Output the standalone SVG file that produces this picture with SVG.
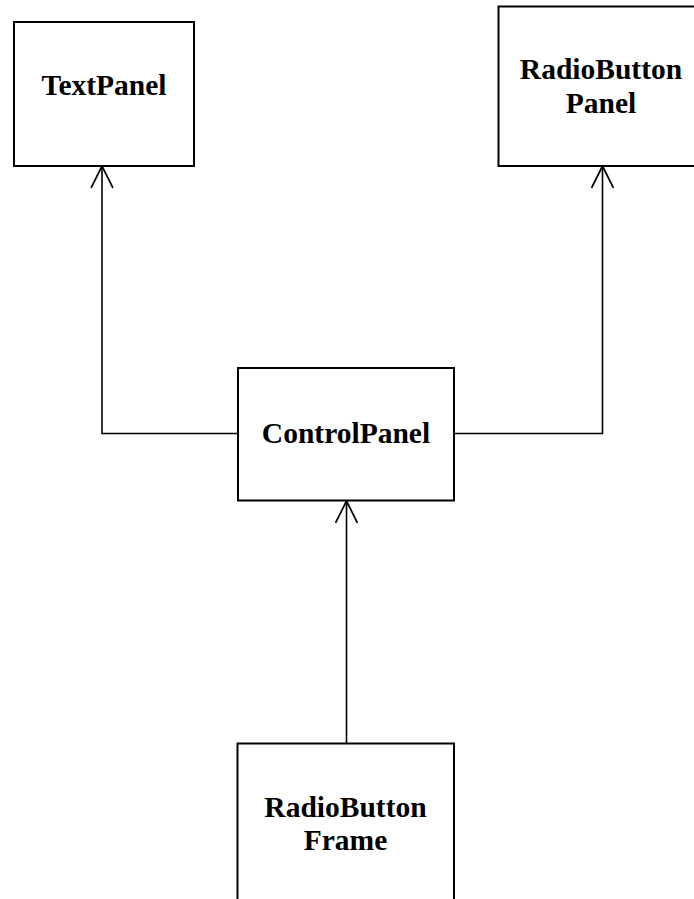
<svg xmlns="http://www.w3.org/2000/svg" width="694" height="899" viewBox="0 0 694 899">
<defs>
<style>
.box{fill:#fff;stroke:#000;stroke-width:2}
.lbl{font-family:"Liberation Serif","Times New Roman",serif;font-weight:bold;font-size:29.5px;text-anchor:middle;fill:#000}
.conn{fill:none;stroke:#000;stroke-width:1.6}
</style>
<marker id="open" markerUnits="userSpaceOnUse" markerWidth="24" markerHeight="24" refX="21" refY="11" orient="auto" viewBox="0 0 22 22">
<path d="M1,1 L21,11 L1,21" fill="none" stroke="#000" stroke-width="1.6"/>
</marker>
</defs>
<rect width="694" height="899" fill="#fff"/>
<g id="connectors">
<path class="conn" d="M238,433.5 H102 V166" marker-end="url(#open)"/>
<path class="conn" d="M454,433.5 H602.5 V166" marker-end="url(#open)"/>
<path class="conn" d="M346.5,743 V501" marker-end="url(#open)"/>
</g>
<g id="TextPanel">
<rect class="box" x="14" y="22" width="180" height="144"/>
<text class="lbl" x="104" y="95">TextPanel</text>
</g>
<g id="RadioButtonPanel">
<rect class="box" x="498.5" y="6.5" width="208" height="159.5"/>
<text class="lbl" x="601" y="79">RadioButton</text>
<text class="lbl" x="601" y="113">Panel</text>
</g>
<g id="ControlPanel">
<rect class="box" x="238" y="368" width="216" height="132.5"/>
<text class="lbl" x="346" y="443">ControlPanel</text>
</g>
<g id="RadioButtonFrame">
<rect class="box" x="237.5" y="743.5" width="216.5" height="170"/>
<text class="lbl" x="345.5" y="817">RadioButton</text>
<text class="lbl" x="345.5" y="850">Frame</text>
</g>
</svg>
